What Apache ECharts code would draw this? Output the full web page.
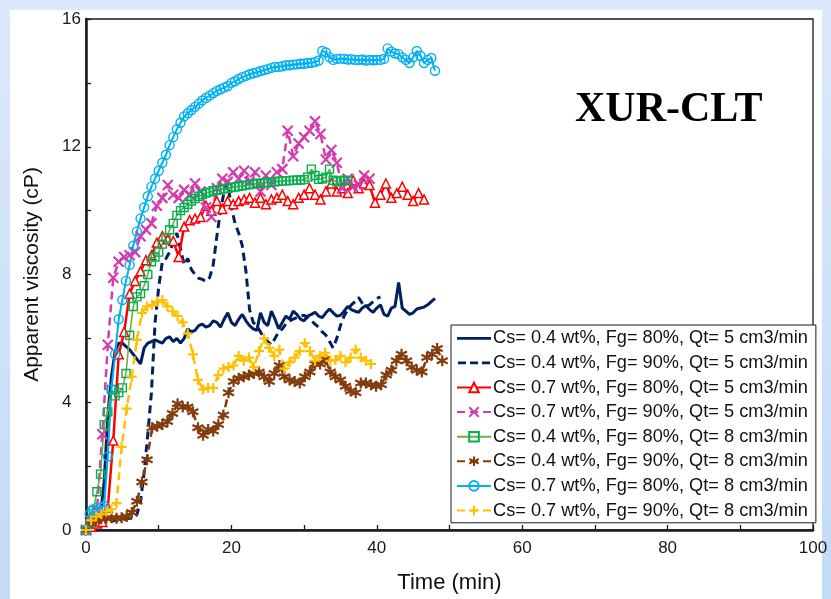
<!DOCTYPE html>
<html>
<head>
<meta charset="utf-8">
<script src="https://cdn.jsdelivr.net/npm/echarts@6/dist/echarts.min.js"></script>
<style>
  html, body { margin: 0; padding: 0; width: 831px; height: 599px; overflow: hidden;
    background: linear-gradient(180deg, #dbe9fb 0%, #cfe2f9 50%, #c3dbf6 100%); }
  #panel { position: absolute; left: 10px; top: 10px; width: 812px; height: 589px; background: #ffffff; }
  #chart { position: absolute; left: 0; top: 0; width: 831px; height: 599px; }
</style>
</head>
<body>
<div id="panel"></div>
<div id="chart"></div>
<script>
// Apparent viscosity (cP) versus time (min), XUR-CLT foam runs.
// Each run is sampled on its own fixed time step (min).

const seriesNames = [
  'Cs= 0.4 wt%, Fg= 80%, Qt= 5 cm3/min',
  'Cs= 0.4 wt%, Fg= 90%, Qt= 5 cm3/min',
  'Cs= 0.7 wt%, Fg= 80%, Qt= 5 cm3/min',
  'Cs= 0.7 wt%, Fg= 90%, Qt= 5 cm3/min',
  'Cs= 0.4 wt%, Fg= 80%, Qt= 8 cm3/min',
  'Cs= 0.4 wt%, Fg= 90%, Qt= 8 cm3/min',
  'Cs= 0.7 wt%, Fg= 80%, Qt= 8 cm3/min',
  'Cs= 0.7 wt%, Fg= 90%, Qt= 8 cm3/min'
];

const xTicks = [0, 20, 40, 60, 80, 100];
const yTicks = [0, 4, 8, 12, 16];

// Cs 0.4 wt%, Fg 80%, Qt 5 cm3/min  (step 0.5 min)
const stepA = 0.5;
const viscA = [0,0.1,0.2,0.3,0.5,1.5,3.6,4.8,5.6,5.85,
  5.85,5.75,5.65,5.5,5.35,5.2,5.7,5.85,5.9,5.95,
  5.9,5.85,6.0,6.05,5.9,6.0,5.85,6.0,6.3,6.2,
  6.25,6.4,6.45,6.35,6.4,6.55,6.5,6.35,6.6,6.8,
  6.5,6.4,6.6,6.75,6.55,6.4,6.3,6.25,6.8,6.5,
  6.4,6.85,6.6,6.3,6.5,6.7,6.6,6.85,6.75,6.6,
  6.55,6.7,6.75,6.82,6.7,6.65,6.8,6.92,6.8,6.7,
  6.72,6.85,7.0,6.9,6.85,6.82,6.95,7.03,6.9,6.82,
  6.95,7.05,6.75,6.7,6.95,7.0,7.75,6.95,6.85,6.75,
  6.8,6.92,6.95,6.98,7.05,7.15,7.25];

// Cs 0.4 wt%, Fg 90%, Qt 5 cm3/min  (step 0.5 min)
const stepB = 0.5;
const viscB = [0,0.05,0.1,0.15,0.2,0.22,0.25,0.27,0.3,0.3,
  0.32,0.35,0.37,0.4,0.48,0.9,1.8,3.0,4.3,6.5,
  7.6,8.4,8.5,8.7,9.0,9.3,8.8,8.3,8.5,8.15,
  8.0,7.88,7.85,7.78,7.9,8.3,9.2,10.0,10.6,10.85,
  10.1,9.6,9.3,8.9,8.1,6.9,6.5,6.4,6.2,6.0,
  5.9,5.8,6.0,6.2,6.3,6.45,6.55,6.6,6.65,6.7,
  6.72,6.65,6.55,6.45,6.35,6.2,6.1,5.9,5.7,6.0,
  6.4,6.7,6.9,7.05,7.15,7.28,7.1,7.0,7.05,7.15,
  7.25,7.3];

// Cs 0.7 wt%, Fg 80%, Qt 5 cm3/min  (step 0.75 min)
const stepC = 0.75;
const viscC = [0,0.1,0.2,0.25,0.7,2.8,5.5,6.2,7.4,7.8,
  8.1,8.45,8.6,9.0,9.2,9.1,9.05,8.55,9.5,9.7,
  9.75,9.8,10.15,10.0,10.3,10.05,10.3,10.2,10.3,10.35,
  10.4,10.25,10.4,10.2,10.35,10.4,10.5,10.3,10.2,10.4,
  10.5,10.7,10.5,10.35,10.6,10.85,10.6,10.7,10.55,10.95,
  10.7,10.85,10.8,10.25,10.5,10.85,10.4,10.55,10.75,10.5,
  10.3,10.55,10.35];

// Cs 0.7 wt%, Fg 90%, Qt 5 cm3/min  (step 0.75 min)
const stepD = 0.75;
const viscD = [0,0.3,0.6,3.0,5.8,7.9,8.4,8.55,8.6,8.7,
  9.2,9.4,9.6,10.15,10.4,10.8,10.5,10.4,10.65,10.5,
  10.85,10.6,10.1,9.8,10.7,11.0,10.9,11.2,11.0,11.25,
  10.9,11.2,10.6,11.1,10.8,11.2,11.3,12.5,11.7,12.1,
  12.3,12.5,12.8,12.4,11.6,11.9,11.5,10.7,11.0,10.75,
  10.8,11.1,11.0];

// Cs 0.4 wt%, Fg 80%, Qt 8 cm3/min  (step 0.5 min)
const stepE = 0.5;
const viscE = [0,0.2,0.6,1.2,1.75,3.3,3.7,4.4,4.2,4.3,
  4.45,4.9,6.1,7.0,7.3,7.4,7.65,8.0,8.4,8.55,
  8.7,8.95,9.15,9.4,9.6,9.85,10.0,10.1,10.2,10.3,
  10.38,10.45,10.5,10.55,10.58,10.62,10.64,10.66,10.68,10.7,
  10.72,10.74,10.76,10.78,10.8,10.82,10.83,10.85,10.86,10.87,
  10.88,10.9,10.9,10.92,10.93,10.93,10.94,10.95,10.95,10.96,
  10.97,11.05,11.3,11.1,10.98,11.0,11.05,11.3,10.95,10.9,
  10.93,10.95,10.93];

// Cs 0.4 wt%, Fg 90%, Qt 8 cm3/min  (step 0.7 min)
const stepF = 0.7;
const viscF = [0,0.2,0.3,0.35,0.37,0.38,0.37,0.38,0.42,0.55,
  0.9,1.5,2.2,3.2,3.25,3.3,3.4,3.65,3.95,3.85,
  3.85,3.7,3.2,2.97,3.15,3.1,3.3,3.6,4.3,4.65,
  4.75,4.8,4.85,4.9,4.95,4.8,4.65,4.9,5.15,4.8,
  4.7,4.65,4.6,4.8,4.95,5.2,5.2,5.35,4.95,4.8,
  4.7,4.5,4.35,4.3,4.6,4.6,4.55,4.5,4.55,4.85,
  5.0,5.3,5.5,5.3,5.1,5.0,4.95,5.4,5.5,5.68,5.3];

// Cs 0.7 wt%, Fg 80%, Qt 8 cm3/min  (step 0.5 min)
const stepG = 0.5;
const viscG = [0,0.5,0.65,0.7,0.7,0.75,2.3,4.4,5.5,6.6,
  7.2,7.8,8.3,8.9,9.35,9.75,10.1,10.45,10.75,11.0,
  11.25,11.5,11.75,12.05,12.3,12.55,12.75,12.95,13.05,13.15,
  13.25,13.35,13.45,13.53,13.6,13.68,13.75,13.8,13.85,13.9,
  14.0,14.05,14.12,14.18,14.22,14.27,14.3,14.33,14.37,14.4,
  14.43,14.47,14.5,14.5,14.52,14.55,14.55,14.57,14.58,14.6,
  14.6,14.62,14.63,14.65,14.7,15.0,14.95,14.8,14.72,14.75,
  14.76,14.75,14.73,14.74,14.72,14.72,14.73,14.7,14.72,14.71,
  14.72,14.72,14.75,15.08,14.98,14.92,14.9,14.8,14.72,14.62,
  14.8,15.0,14.85,14.62,14.72,14.78,14.38];

// Cs 0.7 wt%, Fg 90%, Qt 8 cm3/min  (step 0.7 min)
const stepH = 0.7;
const viscH = [0,0.3,0.42,0.5,0.58,0.65,0.84,2.6,3.8,4.8,
  5.95,6.8,7.0,7.05,7.15,7.2,7.0,6.85,6.7,6.5,
  6.15,5.5,4.7,4.4,4.45,4.45,4.85,5.05,5.1,5.15,
  5.45,5.3,5.4,5.1,5.6,6.0,5.7,5.45,5.65,5.05,
  5.25,5.4,5.6,5.85,5.6,5.3,5.45,5.55,5.3,5.32,
  5.45,5.25,5.4,5.65,5.4,5.3,5.2];

// pair every reading with its sampling time
function timed(step, values) {
  return values.map((v, i) => [Math.round(i * step * 100) / 100, v]);
}

// marker glyphs
const SYM_X = 'path://M0,0L10,10M10,0L0,10';
const SYM_STAR = 'path://M5,0L5,10M0.7,2.5L9.3,7.5M9.3,2.5L0.7,7.5';
const SYM_PLUS = 'path://M5,0L5,10M0,5L10,5';

// plain legend keys (34 x 12 box) for the marker-less runs
const KEY_SOLID = 'path://M0,0L0.01,0L0,0.01ZM0,4.6L34,4.6L34,7.4L0,7.4ZM34,12L33.99,12L34,11.99Z';
const KEY_DASH = 'path://M0,0L0.01,0L0,0.01ZM1,4.6L9,4.6L9,7.4L1,7.4ZM13,4.6L21,4.6L21,7.4L13,7.4ZM25,4.6L33,4.6L33,7.4L25,7.4ZM34,12L33.99,12L34,11.99Z';

function lineSeries(name, data, o) {
  return {
    name: name,
    type: 'line',
    data: data,
    symbol: o.symbol || 'none',
    symbolSize: o.size || 8,
    showSymbol: !!o.symbol,
    smooth: false,
    lineStyle: { color: o.line, width: o.width, type: o.dash || 'solid' },
    itemStyle: o.symbol
      ? { color: o.fill || 'rgba(255,255,255,0)', borderColor: o.mark || o.line, borderWidth: o.bw || 1.5 }
      : { color: o.line },
    emphasis: { disabled: true },
    animation: false
  };
}

const series = [
  lineSeries(seriesNames[0], timed(stepA, viscA), { line: '#002060', width: 3 }),
  lineSeries(seriesNames[1], timed(stepB, viscB), { line: '#002060', width: 3, dash: [8, 5] }),
  lineSeries(seriesNames[2], timed(stepC, viscC), { line: '#ff0000', width: 2.5, symbol: 'triangle', size: 9, fill: '#ffffff' }),
  lineSeries(seriesNames[3], timed(stepD, viscD), { line: '#d43bb0', width: 2.5, dash: [8, 5], symbol: SYM_X, size: 10, bw: 2.2 }),
  lineSeries(seriesNames[4], timed(stepE, viscE), { line: '#70ad47', width: 1.6, symbol: 'rect', size: 8, mark: '#00b050', bw: 1.4 }),
  lineSeries(seriesNames[5], timed(stepF, viscF), { line: '#843c0c', width: 2.5, dash: [8, 5], symbol: SYM_STAR, size: 11, bw: 2.2 }),
  lineSeries(seriesNames[6], timed(stepG, viscG), { line: '#00b0f0', width: 2, symbol: 'circle', size: 9, bw: 1.4 }),
  lineSeries(seriesNames[7], timed(stepH, viscH), { line: '#ffc000', width: 2.5, dash: [8, 5], symbol: SYM_PLUS, size: 10, bw: 2.2 })
];

const legendData = seriesNames.map((name, i) => {
  if (i === 0) return { name: name, icon: KEY_SOLID };
  if (i === 1) return { name: name, icon: KEY_DASH };
  return { name: name };
});

const chart = echarts.init(document.getElementById('chart'), null, { renderer: 'canvas' });

chart.setOption({
  animation: false,
  backgroundColor: 'transparent',
  title: {
    text: 'XUR-CLT',
    left: 570,
    top: 84,
    textStyle: { fontFamily: '"Liberation Serif", "Times New Roman", serif', fontWeight: 'bold', fontSize: 42, color: '#000000' }
  },
  grid: {
    left: 86, top: 19, width: 727, height: 513,
    show: true, borderColor: '#1a1a1a', borderWidth: 1.3, backgroundColor: 'transparent'
  },
  xAxis: {
    type: 'value',
    min: xTicks[0], max: xTicks[xTicks.length - 1], interval: 10,
    name: 'Time (min)', nameLocation: 'middle', nameGap: 42,
    nameTextStyle: { fontFamily: '"Liberation Sans", Arial, sans-serif', fontSize: 22, color: '#111111' },
    axisLine: { show: true, onZero: false, lineStyle: { color: '#1a1a1a', width: 2.5 } },
    axisTick: { show: true, inside: true, length: 5, lineStyle: { color: '#1a1a1a', width: 1.3 } },
    axisLabel: {
      margin: 10,
      fontFamily: '"Liberation Sans", Arial, sans-serif', fontSize: 17, color: '#1a1a1a',
      formatter: v => (xTicks.indexOf(v) >= 0 ? String(v) : '')
    },
    splitLine: { show: false }
  },
  yAxis: {
    type: 'value',
    min: yTicks[0], max: yTicks[yTicks.length - 1], interval: 2,
    name: 'Apparent viscosity (cP)', nameLocation: 'middle', nameGap: 43, nameRotate: 90,
    nameTextStyle: { fontFamily: '"Liberation Sans", Arial, sans-serif', fontSize: 21, color: '#111111' },
    axisLine: { show: true, onZero: false, lineStyle: { color: '#1a1a1a', width: 2.5 } },
    axisTick: { show: true, inside: true, length: 5, lineStyle: { color: '#1a1a1a', width: 1.3 } },
    axisLabel: {
      margin: 24, align: 'left',
      fontFamily: '"Liberation Sans", Arial, sans-serif', fontSize: 17, color: '#1a1a1a',
      formatter: v => (yTicks.indexOf(v) >= 0 ? String(v) : '')
    },
    splitLine: { show: false }
  },
  legend: {
    orient: 'vertical',
    left: 451, top: 325,
    padding: [1, 8, 0, 5],
    itemGap: 0,
    itemWidth: 34, itemHeight: 12,
    borderColor: '#1a1a1a', borderWidth: 1,
    backgroundColor: '#ffffff',
    selectedMode: false,
    textStyle: { fontFamily: '"Liberation Sans", Arial, sans-serif', fontSize: 18.2, color: '#111111', lineHeight: 24.6, padding: [0, 0, 0, -3] },
    data: legendData
  },
  series: series
});
</script>
</body>
</html>
